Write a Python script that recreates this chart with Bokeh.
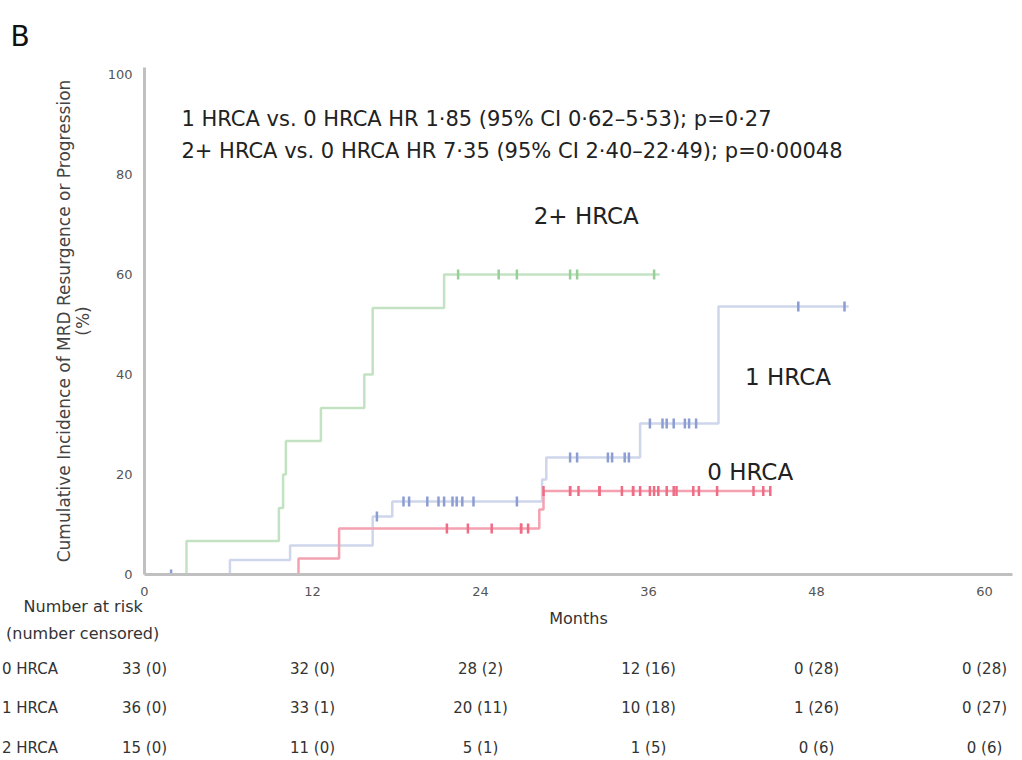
import numpy as np
from bokeh.plotting import figure
from bokeh.models import Range1d, FixedTicker, Label, ColumnDataSource
from bokeh.core.properties import value
from bokeh.embed import file_html
from bokeh.resources import INLINE

# ---- Kaplan-Meier style cumulative incidence curves (months, %) ----
# 0 HRCA
hrca0_event_months = [11.0, 13.9, 28.2, 28.5]
hrca0_cuminc = [3.2, 9.2, 13.0, 16.7]
hrca0_last_month = 44.7
hrca0_censored = [21.6, 23.1, 24.8, 26.9, 26.9, 27.4, 28.5, 30.4, 30.4, 31.0, 32.5,
                  32.5, 34.1, 34.9, 34.9, 35.4, 36.1, 36.4, 36.7, 37.3, 37.8, 38.0,
                  39.2, 39.6, 40.9, 43.5, 44.2, 44.7]

# 1 HRCA
hrca1_event_months = [6.1, 10.4, 16.3, 17.7, 28.4, 28.7, 35.4, 41.0]
hrca1_cuminc = [2.9, 5.8, 11.6, 14.6, 19.0, 23.4, 30.2, 53.6]
hrca1_last_month = 50.3
hrca1_censored = [1.9, 16.6, 18.5, 18.9, 20.2, 21.0, 21.4, 22.0, 22.3, 22.7, 23.5,
                  26.6, 30.4, 30.9, 33.1, 33.4, 34.3, 34.6, 36.1, 37.0, 37.3, 37.8,
                  38.6, 38.9, 39.4, 46.7, 50.0]

# 2+ HRCA
hrca2_event_months = [3.0, 9.6, 9.9, 10.1, 12.6, 15.7, 16.3, 21.4]
hrca2_cuminc = [6.7, 13.3, 20.0, 26.7, 33.3, 40.0, 53.3, 60.0]
hrca2_last_month = 36.8
hrca2_censored = [22.4, 25.3, 26.6, 30.4, 30.9, 36.4]

# ---- Number at risk (number censored) ----
risk_months = [0, 12, 24, 36, 48, 60]
risk_groups = ["0 HRCA", "1 HRCA", "2 HRCA"]
at_risk = {
    "0 HRCA": [33, 32, 28, 12, 0, 0],
    "1 HRCA": [36, 33, 20, 10, 1, 0],
    "2 HRCA": [15, 11, 5, 1, 0, 0],
}
censored = {
    "0 HRCA": [0, 0, 2, 16, 28, 28],
    "1 HRCA": [0, 1, 11, 18, 26, 27],
    "2 HRCA": [0, 0, 1, 5, 6, 6],
}

x_ticks = [0, 12, 24, 36, 48, 60]
y_ticks = [0, 20, 40, 60, 80, 100]

FONT = "DejaVu Sans"
W = 1022
LEFT, RIGHT = 144, 10
PX_PER_MONTH = (W - LEFT - RIGHT) / 62.0

# ================= survival panel =================
p = figure(width=W, height=598, output_backend="svg", toolbar_location=None,
           x_range=Range1d(0, 62), y_range=Range1d(0, 101.4),
           min_border_left=LEFT, min_border_right=RIGHT, min_border_top=67,
           min_border_bottom=24)
p.outline_line_color = None
p.xgrid.visible = False
p.ygrid.visible = False

p.title.text = "B"
p.title.text_font = FONT
p.title.text_font_size = "28px"
p.title.text_font_style = "normal"
p.title.text_color = "#111111"
p.title.align = "left"
p.title.offset = -134
p.title.standoff = 30

for ax in (p.xaxis[0], p.yaxis[0]):
    ax.axis_line_color = "#c0c0c0"
    ax.axis_line_width = 3
    ax.major_tick_line_color = None
    ax.minor_tick_line_color = None
    ax.major_label_text_font = FONT
    ax.major_label_text_font_size = "13px"
    ax.major_label_text_color = "#555555"

p.xaxis.ticker = FixedTicker(ticks=x_ticks)
p.yaxis.ticker = FixedTicker(ticks=y_ticks)
p.xaxis.major_label_standoff = 6
p.yaxis.major_label_standoff = 6
p.yaxis.axis_label = "Cumulative Incidence of MRD Resurgence or Progression\n(%)"
p.yaxis.axis_label_text_font = FONT
p.yaxis.axis_label_text_font_style = "normal"
p.yaxis.axis_label_text_font_size = "17px"
p.yaxis.axis_label_text_color = "#444444"
p.yaxis.axis_label_text_line_height = 0.95
p.yaxis.axis_label_standoff = 12


def draw_curve(event_months, cuminc, last_month, censor_months, line_color, tick_color):
    xs = [0.0] + list(event_months) + [last_month]
    ys = [0.0] + list(cuminc) + [cuminc[-1]]
    p.step(xs, ys, mode="after", line_color=line_color, line_width=2.5)
    # level of the step function at each censoring time
    steps_x = np.array(event_months)
    levels = np.array([0.0] + list(cuminc))
    idx = np.searchsorted(steps_x, np.array(censor_months), side="right")
    p.scatter(censor_months, levels[idx], marker="dash", angle=np.pi / 2, size=10,
              line_color=tick_color, line_width=2.5)


draw_curve(hrca1_event_months, hrca1_cuminc, hrca1_last_month, hrca1_censored,
           "#ced6ec", "#8b9dd2")
draw_curve(hrca2_event_months, hrca2_cuminc, hrca2_last_month, hrca2_censored,
           "#c3e2c3", "#98cf98")
draw_curve(hrca0_event_months, hrca0_cuminc, hrca0_last_month, hrca0_censored,
           "#f4a2b1", "#ef6c85")


def add_label(x, y, text, size):
    p.add_layout(Label(x=x, y=y, text=text, text_font=FONT, text_font_size=size,
                       text_color="#222222", text_align="left", text_baseline="middle"))


add_label(2.64, 91.2, "1 HRCA vs. 0 HRCA HR 1·85 (95% CI 0·62–5·53); p=0·27", "21px")
add_label(2.64, 84.8, "2+ HRCA vs. 0 HRCA HR 7·35 (95% CI 2·40–22·49); p=0·00048", "21px")
add_label(27.8, 71.8, "2+ HRCA", "23px")
add_label(42.9, 39.6, "1 HRCA", "23px")
add_label(40.2, 20.6, "0 HRCA", "23px")

# ================= risk table panel =================
# same month scale as the panel above; y counts pixel rows down the page
t = figure(width=W, height=162, output_backend="svg", toolbar_location=None,
           x_range=Range1d(-LEFT / PX_PER_MONTH, (W - LEFT) / PX_PER_MONTH),
           y_range=Range1d(760, 598),
           x_axis_location=None, y_axis_location=None,
           min_border_left=0, min_border_right=0, min_border_top=0, min_border_bottom=0)
t.outline_line_color = None
t.grid.visible = False

TXT = "#333333"
left_x = -LEFT / PX_PER_MONTH + 0.1

t.text(x=[31.0], y=[618], text=["Months"], text_font=value(FONT),
       text_font_size=value("16px"), text_color=TXT, text_align="center",
       text_baseline="middle")
t.text(x=[left_x + 1.55, left_x + 0.3], y=[606, 633],
       text=["Number at risk", "(number censored)"], text_font=value(FONT),
       text_font_size=value("16px"), text_color=TXT, text_align="left",
       text_baseline="middle")

row_y = {"0 HRCA": 668, "1 HRCA": 707, "2 HRCA": 747}
t.text(x=[left_x] * len(risk_groups), y=[row_y[g] for g in risk_groups],
       text=risk_groups, text_font=value(FONT), text_font_size=value("15px"),
       text_color=TXT, text_align="left", text_baseline="middle")

tx, ty, tt = [], [], []
for g in risk_groups:
    for m, n, c in zip(risk_months, at_risk[g], censored[g]):
        tx.append(m)
        ty.append(row_y[g])
        tt.append(f"{n} ({c})")
t.text(x="x", y="y", text="text", source=ColumnDataSource(dict(x=tx, y=ty, text=tt)),
       text_font=value(FONT), text_font_size=value("15px"), text_color=TXT,
       text_align="center", text_baseline="middle")

# two independent roots stacked on the page, so the table keeps its own full-width frame
open("out.html", "w").write(file_html([p, t], INLINE))
